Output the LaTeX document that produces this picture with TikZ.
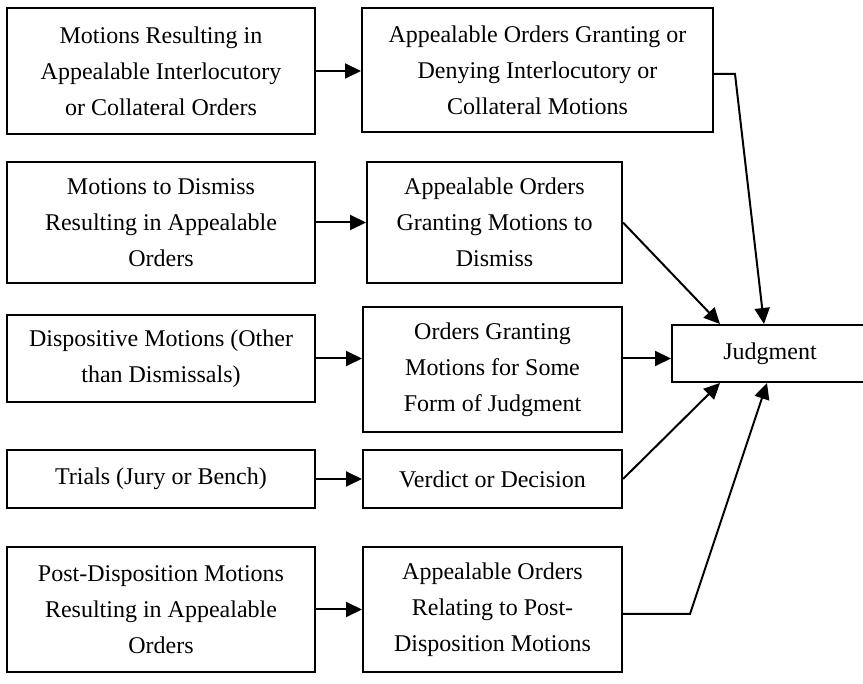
\documentclass[tikz,border=0pt]{standalone}
\usepackage{fontspec}
\setmainfont{Liberation Serif}
\usetikzlibrary{arrows.meta}
\tikzset{
	stage/.style={draw,line width=2pt,align=center,inner sep=0pt,font=\fontsize{24}{36}\selectfont},
	feed/.style={line width=2pt,-{Triangle[length=16pt,width=15pt]}},
}
\newcommand{\stagebox}[6]{\node[stage,minimum width=#4,minimum height=#5] (#1) at (#2,#3) {#6};}
\newcommand{\feed}[2]{\draw[feed] (#1) -- (#2);}

\begin{document}
\begin{tikzpicture}[x=1pt,y=-1pt]
	\clip (0,0) rectangle (863,684);
	\stagebox{m1}{161}{71}{308}{126}{Motions Resulting in\\Appealable Interlocutory\\or Collateral Orders}
	\stagebox{o1}{537.5}{70}{351}{124}{Appealable Orders Granting or\\Denying Interlocutory or\\Collateral Motions}
	\stagebox{m2}{161}{222.5}{308}{121}{Motions to Dismiss\\Resulting in Appealable\\Orders}
	\stagebox{o2}{494.5}{222.5}{255}{121}{Appealable Orders\\Granting Motions to\\Dismiss}
	\stagebox{m3}{161}{358.5}{308}{87}{Dispositive Motions (Other\\than Dismissals)}
	\stagebox{o3}{492.5}{369.5}{259}{125}{Orders Granting\\Motions for Some\\Form of Judgment}
	\stagebox{m4}{161}{479}{308}{58}{Trials (Jury or Bench)}
	\stagebox{o4}{492.5}{479}{259}{58}{Verdict or Decision}
	\stagebox{m5}{161}{609.5}{308}{125}{Post-Disposition Motions\\Resulting in Appealable\\Orders}
	\stagebox{o5}{492.5}{609.5}{259}{125}{Appealable Orders\\Relating to Post-\\Disposition Motions}
	\stagebox{jd}{770}{353.5}{196}{57}{Judgment}
	% motions to orders
	\feed{m1.east}{m1.east -| o1.west}
	\feed{m2.east}{m2.east -| o2.west}
	\feed{m3.east}{m3.east -| o3.west}
	\feed{m4.east}{m4.east -| o4.west}
	\feed{m5.east}{m5.east -| o5.west}
	% orders to judgment
	\coordinate (r1) at (735,74);
	\coordinate (r5) at (690,614);
	\draw[feed] (o1.east |- r1) -- (r1) -- ([xshift=-6pt]jd.north);
	\feed{o2.east}{[xshift=-50pt]jd.north}
	\feed{m3.east -| o3.east}{m3.east -| jd.west}
	\feed{o4.east}{[xshift=-50pt]jd.south}
	\draw[feed] (o5.east |- r5) -- (r5) -- ([xshift=-3pt]jd.south);
\end{tikzpicture}
\end{document}
